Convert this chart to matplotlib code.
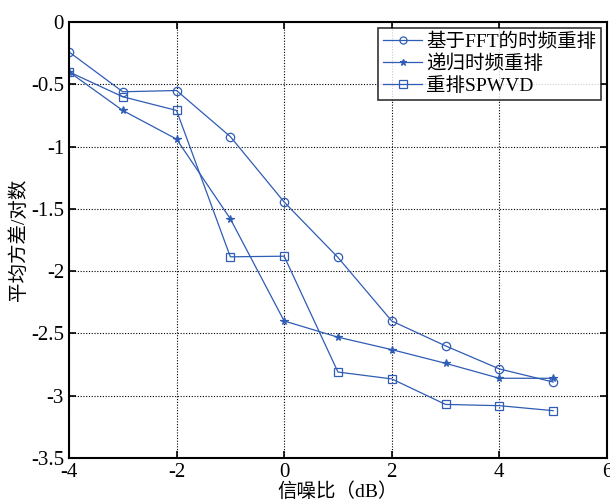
import numpy as np
import matplotlib.pyplot as plt

plt.rcParams['font.family'] = ['Liberation Serif', 'Noto Sans CJK SC']
plt.rcParams['axes.unicode_minus'] = False

# signal-to-noise ratio (dB)
snr = [-4, -3, -2, -1, 0, 1, 2, 3, 4, 5]
# log mean variance for each method
fft_reassign = [-0.24, -0.56, -0.55, -0.92, -1.445, -1.89, -2.40, -2.60, -2.785, -2.89]
recursive_reassign = [-0.40, -0.71, -0.94, -1.58, -2.40, -2.53, -2.63, -2.74, -2.86, -2.86]
reassigned_spwvd = [-0.40, -0.60, -0.71, -1.885, -1.88, -2.81, -2.865, -3.07, -3.08, -3.12]

blue = '#2f5cb4'

fig = plt.figure(figsize=(6.1, 5), dpi=100)
ax = fig.add_axes([0.113, 0.084, 0.882, 0.872])

ax.plot(snr, fft_reassign, '-o', color=blue, lw=0.9, ms=6, mfc='none', mew=0.9,
        label='基于FFT的时频重排')
ax.plot(snr, recursive_reassign, '-*', color=blue, lw=0.9, ms=5.5, mew=0.9,
        label='递归时频重排')
ax.plot(snr, reassigned_spwvd, '-s', color=blue, lw=0.9, ms=6, mfc='none', mew=0.9,
        label='重排SPWVD')

ax.set_xlim(-4, 6)
ax.set_ylim(-3.5, 0)
ax.set_xticks(np.arange(-4, 7, 2))
ax.set_yticks(np.arange(-3.5, 0.01, 0.5))
ax.set_yticklabels(['-3.5', '-3', '-2.5', '-2', '-1.5', '-1', '-0.5', '0'])
ax.tick_params(direction='in', top=True, right=True, labelsize=15, length=5, width=1.2)
for s in ax.spines.values():
    s.set_linewidth(1.5)
ax.grid(True, color='black', linestyle=(0, (1, 1.5)), linewidth=0.8)

ax.set_xlabel('信噪比（dB）', fontsize=14, labelpad=0)
ax.set_ylabel('平均方差/对数', fontsize=14, labelpad=2)

leg = ax.legend(loc='upper right', fontsize=14, frameon=True, fancybox=False,
                edgecolor='black', borderpad=0.25, handlelength=2.0,
                handletextpad=0.2, labelspacing=0.18, borderaxespad=0.3,
                markerscale=0.85)
leg.get_frame().set_linewidth(1.2)

fig.savefig('out.png', dpi=100)
